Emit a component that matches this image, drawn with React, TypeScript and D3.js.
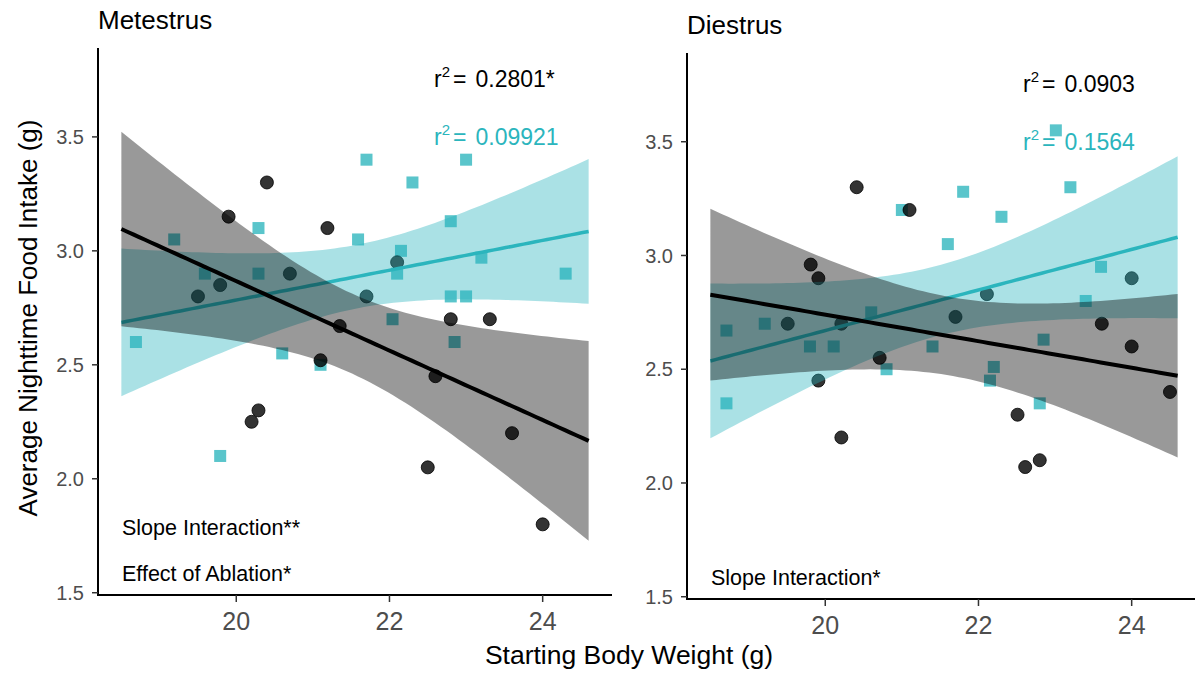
import React, { useEffect, useRef } from 'react';
import * as d3 from 'd3';

// shared axis settings
const xLimits: [number, number] = [18.5, 24.6];
const yDomain: [number, number] = [1.49, 3.89];
const xTicks = [20, 22, 24];
const yTicks = [1.5, 2.0, 2.5, 3.0, 3.5];

// Metestrus — black circles
const metCircleX = [19.5, 19.79, 19.9, 20.2, 20.29, 20.4, 20.7, 21.1, 21.19, 21.35, 21.7, 22.1, 22.5, 22.6, 22.8, 23.31, 23.6, 24.0];
const metCircleY = [2.8, 2.85, 3.15, 2.25, 2.3, 3.3, 2.9, 2.52, 3.1, 2.67, 2.8, 2.95, 2.05, 2.45, 2.7, 2.7, 2.2, 1.8];
// Metestrus — teal squares
const metSquareX = [18.69, 19.19, 19.59, 19.79, 20.29, 20.29, 20.6, 21.1, 21.59, 21.7, 22.04, 22.1, 22.15, 22.3, 22.8, 22.8, 22.85, 23.0, 23.0, 23.2, 24.3];
const metSquareY = [2.6, 3.05, 2.9, 2.1, 3.1, 2.9, 2.55, 2.5, 3.05, 3.4, 2.7, 2.9, 3.0, 3.3, 3.13, 2.8, 2.6, 3.4, 2.8, 2.97, 2.9];

// Diestrus — black circles
const diCircleX = [19.51, 19.81, 19.91, 19.91, 20.21, 20.21, 20.41, 20.71, 21.1, 21.7, 22.11, 22.51, 22.61, 22.8, 23.61, 24.0, 24.0, 24.5];
const diCircleY = [2.7, 2.96, 2.9, 2.45, 2.7, 2.2, 3.3, 2.55, 3.2, 2.73, 2.83, 2.3, 2.07, 2.1, 2.7, 2.9, 2.6, 2.4];
// Diestrus — teal squares
const diSquareX = [18.71, 18.71, 19.21, 19.8, 20.11, 20.6, 20.8, 21.0, 21.4, 21.6, 21.8, 22.15, 22.2, 22.3, 22.8, 22.85, 23.01, 23.2, 23.4, 23.6];
const diSquareY = [2.67, 2.35, 2.7, 2.6, 2.6, 2.75, 2.5, 3.2, 2.6, 3.05, 3.28, 2.45, 2.51, 3.17, 2.35, 2.63, 3.55, 3.3, 2.8, 2.95];

const panelTitles = ['Metestrus', 'Diestrus'];
const r2Black = ['0.2801*', '0.0903'];
const r2Teal = ['0.09921', '0.1564'];
const panelNotes = [['Slope Interaction**', 'Effect of Ablation*'], ['Slope Interaction*']];

// t(0.975, df)
const T975: Record<number, number> = { 14: 2.145, 15: 2.131, 16: 2.12, 17: 2.11, 18: 2.101, 19: 2.093, 20: 2.086, 21: 2.08, 22: 2.074 };

const TEAL = '#2bb5bd';
const FONT = '"Liberation Sans", Arial, Helvetica, sans-serif';

function lmBand(xs: number[], ys: number[]) {
  const n = xs.length;
  const mx = d3.mean(xs)!;
  const my = d3.mean(ys)!;
  let sxx = 0, sxy = 0;
  xs.forEach((x, i) => { sxx += (x - mx) ** 2; sxy += (x - mx) * (ys[i] - my); });
  const b = sxy / sxx;
  const a = my - b * mx;
  let sse = 0;
  xs.forEach((x, i) => { sse += (ys[i] - a - b * x) ** 2; });
  const s = Math.sqrt(sse / (n - 2));
  const t = T975[n - 2] ?? 2.1;
  const grid = d3.range(80).map(i => xLimits[0] + (xLimits[1] - xLimits[0]) * i / 79);
  return grid.map(x => {
    const fit = a + b * x;
    const se = s * Math.sqrt(1 / n + (x - mx) ** 2 / sxx);
    return { x, fit, lo: fit - t * se, hi: fit + t * se };
  });
}

export default function App() {
  const svgRef = useRef<SVGSVGElement>(null);

  useEffect(() => {
    if (!svgRef.current) return;
    const svg = d3.select(svgRef.current);
    svg.selectAll('*').remove();

    const layouts = [
      { left: 98, top: 48, bottom: 595, width: 514, titleY: 29 },
      { left: 687, top: 53, bottom: 599, width: 514, titleY: 34 },
    ];
    const data = [
      { cx: metCircleX, cy: metCircleY, sx: metSquareX, sy: metSquareY },
      { cx: diCircleX, cy: diCircleY, sx: diSquareX, sy: diSquareY },
    ];

    const pad = (xLimits[1] - xLimits[0]) * 0.05;

    layouts.forEach((L, p) => {
      const x = d3.scaleLinear().domain([xLimits[0] - pad, xLimits[1] + pad]).range([L.left, L.left + L.width]);
      const y = d3.scaleLinear().domain(yDomain).range([L.bottom, L.top]);
      const g = svg.append('g');
      const D = data[p];

      // points
      const sq = 12;
      g.append('g').selectAll('rect').data(D.sx.map((v, i) => [v, D.sy[i]])).join('rect')
        .attr('x', d => x(d[0]) - sq / 2).attr('y', d => y(d[1]) - sq / 2)
        .attr('width', sq).attr('height', sq)
        .attr('fill', TEAL).attr('fill-opacity', 0.78);
      g.append('g').selectAll('circle').data(D.cx.map((v, i) => [v, D.cy[i]])).join('circle')
        .attr('cx', d => x(d[0])).attr('cy', d => y(d[1])).attr('r', 6.5)
        .attr('fill', '#000').attr('fill-opacity', 0.8)
        .attr('stroke', '#000').attr('stroke-opacity', 0.8).attr('stroke-width', 1);

      // smooths: teal group first, then black
      const area = d3.area<{ x: number; lo: number; hi: number }>()
        .x(d => x(d.x)).y0(d => y(d.lo)).y1(d => y(d.hi));
      const line = d3.line<{ x: number; fit: number }>().x(d => x(d.x)).y(d => y(d.fit));

      const tealBand = lmBand(D.sx, D.sy);
      g.append('path').attr('d', area(tealBand)).attr('fill', TEAL).attr('fill-opacity', 0.4);
      g.append('path').attr('d', line(tealBand)).attr('fill', 'none').attr('stroke', TEAL).attr('stroke-width', 3.5);

      const blackBand = lmBand(D.cx, D.cy);
      g.append('path').attr('d', area(blackBand)).attr('fill', '#000').attr('fill-opacity', 0.4);
      g.append('path').attr('d', line(blackBand)).attr('fill', 'none').attr('stroke', '#000').attr('stroke-width', 4);

      // axes
      g.append('line').attr('x1', L.left).attr('x2', L.left).attr('y1', L.top).attr('y2', L.bottom + 1)
        .attr('stroke', '#000').attr('stroke-width', 2);
      g.append('line').attr('x1', L.left - 1).attr('x2', L.left + L.width).attr('y1', L.bottom).attr('y2', L.bottom)
        .attr('stroke', '#000').attr('stroke-width', 2);

      yTicks.forEach(t => {
        g.append('line').attr('x1', L.left - 6).attr('x2', L.left).attr('y1', y(t)).attr('y2', y(t))
          .attr('stroke', '#333').attr('stroke-width', 1.5);
        g.append('text').attr('x', L.left - 14).attr('y', y(t)).attr('dy', '0.36em')
          .attr('text-anchor', 'end').attr('font-size', 20).attr('fill', '#4d4d4d')
          .attr('font-family', FONT).text(d3.format('.1f')(t));
      });
      xTicks.forEach(t => {
        g.append('line').attr('x1', x(t)).attr('x2', x(t)).attr('y1', L.bottom).attr('y2', L.bottom + 7)
          .attr('stroke', '#333').attr('stroke-width', 1.5);
        g.append('text').attr('x', x(t)).attr('y', L.bottom + 35)
          .attr('text-anchor', 'middle').attr('font-size', 25).attr('fill', '#4d4d4d')
          .attr('font-family', FONT).text(String(t));
      });

      // title
      g.append('text').attr('x', L.left).attr('y', L.titleY).attr('font-size', 26)
        .attr('font-family', FONT).attr('fill', '#000').text(panelTitles[p]);

      // r^2 labels
      const r2 = (val: string, yy: number, color: string) => {
        const tx = g.append('text').attr('x', L.left + 336).attr('y', yy)
          .attr('font-size', 23).attr('font-family', FONT).attr('fill', color);
        tx.append('tspan').text('r');
        tx.append('tspan').attr('font-size', 15).attr('dy', -10).text('2');
        tx.append('tspan').attr('dy', 10).attr('dx', 3).text('=');
        tx.append('tspan').attr('dx', 9).text(val);
      };
      r2(r2Black[p], L.top + 39, '#000');
      r2(r2Teal[p], L.top + 97, TEAL);

      // notes
      const notes = panelNotes[p];
      notes.forEach((s, i) => {
        const yy = L.bottom - 14 - (notes.length - 1 - i) * 46;
        g.append('text').attr('x', L.left + 24).attr('y', yy).attr('font-size', 21.5)
          .attr('font-family', FONT).attr('fill', '#000').text(s);
      });
    });

    // axis titles
    svg.append('text').attr('transform', 'translate(37,318) rotate(-90)')
      .attr('text-anchor', 'middle').attr('font-size', 26).attr('font-family', FONT)
      .attr('fill', '#000').text('Average Nighttime Food Intake (g)');
    svg.append('text').attr('x', 629).attr('y', 664)
      .attr('text-anchor', 'middle').attr('font-size', 26.5).attr('font-family', FONT)
      .attr('fill', '#000').text('Starting Body Weight (g)');
  }, []);

  return (
    <svg
      ref={svgRef}
      width={1195}
      height={675}
      style={{ position: 'absolute', left: 0, top: 0, background: '#fff' }}
    />
  );
}
